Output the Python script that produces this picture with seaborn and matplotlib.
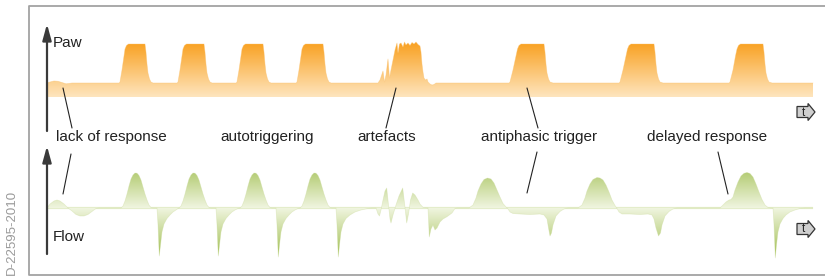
import numpy as np
import pandas as pd
import seaborn as sns
import matplotlib.pyplot as plt
from matplotlib.colors import LinearSegmentedColormap
from matplotlib.patches import PathPatch, FancyArrow

# pressure curve (Paw), x / y in picture units, y grows downwards
paw_x = [47, 50, 54, 58, 62, 66, 69, 72,
         119, 120, 122, 124, 125, 126.5, 128.5, 145, 146, 147, 148, 149.5, 151, 153,
         177, 178, 180, 182, 183, 184.5, 186.5, 204, 205, 206, 207, 208.5, 210, 212,
         236, 237, 239, 241, 242, 243.5, 245.5, 263, 264, 265, 266, 267.5, 269, 271,
         296, 297, 299, 301, 302, 303.5, 305.5, 323, 324, 325, 326, 327.5, 329, 331,
         378, 380, 383, 384.5, 386, 388, 389.5, 391, 393, 395, 397, 398, 399.5, 401, 403, 404.5,
         406, 408, 410, 412, 414, 416, 418, 420, 421, 422, 423, 424, 425.5, 427, 428, 430, 432, 434, 436,
         509, 510, 513, 516, 517.5, 519, 521, 544, 545, 546, 547, 548.5, 550, 553,
         619, 620, 623, 626, 627.5, 629, 631, 654, 655, 656, 657, 658.5, 660, 663,
         729, 730, 733, 735.5, 737, 738.5, 740.5, 763, 764, 765, 766, 767.5, 769, 772,
         813]
paw_y = [83, 82, 81, 81.3, 82.5, 83.8, 83.5, 83,
         83, 82, 70, 56, 49, 45.5, 44, 44, 52, 64, 73, 79, 82, 83,
         83, 82, 70, 56, 49, 45.5, 44, 44, 52, 64, 73, 79, 82, 83,
         83, 82, 70, 56, 49, 45.5, 44, 44, 52, 64, 73, 79, 82, 83,
         83, 82, 70, 56, 49, 45.5, 44, 44, 52, 64, 73, 79, 82, 83,
         83, 80, 71, 82, 75, 59, 78, 70, 60, 50, 43, 53, 44, 43, 47, 42,
         45, 43, 45.5, 42.5, 44, 42, 44.5, 46, 52, 64, 72, 78, 80, 79, 82, 84, 85, 84.5, 83,
         83, 82, 70, 56, 49, 45.5, 44, 44, 52, 64, 73, 79, 82, 83,
         83, 82, 70, 56, 49, 45.5, 44, 44, 52, 64, 73, 79, 82, 83,
         83, 82, 70, 56, 49, 45.5, 44, 44, 52, 64, 73, 79, 82, 83,
         83]
paw_bottom = 97

# flow curve
flow_x = [47, 50, 54, 57, 60, 64, 68, 72, 76, 80, 84, 88, 92, 96, 99,
          121, 123, 125, 127, 129, 131, 133, 135, 137, 139, 141, 143, 145, 147, 149, 151, 153,
          157, 158, 158.8, 159.3, 160.5, 162, 164, 167, 170, 173, 176, 178,
          179, 181, 183, 185, 187, 189, 191, 193, 195, 197, 199, 201, 203, 205, 207, 209, 211,
          216, 217, 217.8, 218.3, 219.5, 221, 223, 226, 229, 232, 235, 238,
          240, 242, 244, 246, 248, 250, 252, 254, 256, 258, 260, 262, 264, 266, 268, 270, 272,
          276, 277, 277.8, 278.3, 279.5, 281, 283, 286, 289, 292, 295, 298,
          300, 302, 304, 306, 308, 310, 312, 314, 316, 318, 320, 322, 324, 326, 328, 330, 332,
          336, 337, 337.8, 338.3, 339.5, 341, 343, 346, 350, 355, 361, 368, 372,
          376, 378, 379.5, 381, 383, 385, 386.7, 388.5, 390, 391, 393, 396, 399, 402.7, 404.5,
          406.7, 408.5, 410.5, 412.7, 415, 418, 420, 423, 428, 429.3, 431, 433, 435, 437, 440,
          443, 447, 450, 452, 455, 457,
          469, 473, 476, 478, 481, 484, 487.5, 491, 494, 497, 500, 503, 506, 508,
          510, 513, 520, 530, 540, 544, 547, 548.5, 550, 551.5, 553, 556, 560, 564, 568,
          578, 582, 585, 587, 590, 593, 597, 600, 603, 606, 609, 612, 615, 617,
          619, 622, 630, 640, 648, 652, 654, 656, 658.5, 660.5, 662, 665, 669, 673, 677,
          720, 723, 726, 729, 731, 733, 735, 738, 741, 744, 747, 750, 753, 756, 759, 762, 765, 768, 771,
          773, 774, 774.8, 775.3, 776.5, 778, 780, 783, 786, 790, 795, 800, 805, 813]
flow_y = [208, 204, 201, 200, 201, 204, 208, 211, 214.5, 216, 216, 214.5, 211.5, 208.5, 208,
          208, 206, 201, 194, 186, 179, 175, 173, 173.2, 175.5, 180, 187, 194, 200, 205, 207.5, 208,
          208, 225, 245, 256, 245, 232, 224, 218.5, 215, 212, 210, 208.5,
          208, 206, 201, 194, 186, 179, 175, 173, 173.2, 175.5, 180, 187, 194, 200, 205, 207.5, 208,
          208, 225, 245, 256, 245, 232, 224, 218.5, 215, 212, 210, 208.5,
          208, 206, 201, 194, 186, 179, 175, 173, 173.2, 175.5, 180, 187, 194, 200, 205, 207.5, 208,
          208, 225, 245, 257, 245, 232, 224, 218.5, 215, 212, 210, 208.5,
          208, 206, 201, 194, 186, 179, 175, 173, 173.2, 175.5, 180, 187, 194, 200, 205, 207.5, 208,
          208, 225, 245, 257, 245, 232, 224, 218.5, 215, 212, 210, 208.5, 208,
          208, 214, 216, 210, 200, 191, 188, 205, 219, 223, 215, 205, 196, 188, 203,
          223, 214, 200, 193, 195, 200, 204, 207.3, 208, 237, 229, 225, 230, 228, 222,
          219, 216.7, 214.5, 213, 208.5, 208,
          208, 205, 198, 191, 184, 179.5, 178, 179, 183, 190, 197, 203.5, 207, 209,
          212, 213.5, 214, 214.5, 214, 215, 219, 228, 236, 233, 225, 216, 211.5, 209, 208,
          208, 205, 198, 191, 184, 179.5, 177.5, 178, 180, 185, 192, 200, 205.5, 208.5,
          212, 214, 214, 214.5, 214, 215, 219, 228, 236, 233, 225, 216, 211.5, 209, 208,
          208, 205, 202, 200, 199.5, 197, 190, 182, 176, 173.3, 172.5, 173.5, 177, 184, 192, 199.5, 205, 207.5, 208,
          208, 225, 245, 258, 245, 232, 224, 218.5, 215, 212, 210, 208.5, 208, 208]
flow_base = 208

# labels
event_labels = ['lack of response', 'autotriggering', 'artefacts',
                'antiphasic trigger', 'delayed response']
event_x = [111, 267, 387, 539, 707]
label_y = 137
leaders = [((72, 128), (63, 88)), ((71, 154), (63, 194)),
           ((386, 128), (396, 88)), ((538, 128), (527, 88)),
           ((537, 152), (527, 193)), ((718, 152), (728, 194))]

sns.set_theme(style='white')
plt.rcParams['font.family'] = ['Liberation Sans', 'DejaVu Sans']

fig = plt.figure(figsize=(8.25, 2.77), dpi=100)
ax = fig.add_axes([0, 0, 1, 1])


def gradient_fill(x, y, base, values, extent, cmap, vmin, vmax):
    poly = ax.fill_between(x, y, base, color='none', lw=0)
    patch = PathPatch(poly.get_paths()[0], transform=ax.transData,
                      facecolor='none', edgecolor='none')
    ax.add_patch(patch)
    im = ax.imshow(values, extent=extent, origin='lower', aspect='auto',
                   cmap=cmap, vmin=vmin, vmax=vmax, zorder=2)
    im.set_clip_path(patch)


# Paw, dark orange at the top, pale at the bottom
paw_cmap = LinearSegmentedColormap.from_list('paw', ['#F9A326', '#FEE5BE'])
ys = np.linspace(40, 100, 240)
gradient_fill(paw_x, paw_y, paw_bottom, np.repeat(ys[:, None], 2, axis=1),
              (47, 813, ys[0], ys[-1]), paw_cmap, 44, 97)
paw = pd.DataFrame({'x': paw_x, 'y': paw_y})
sns.lineplot(data=paw, x='x', y='y', ax=ax, sort=False, estimator=None,
             color='#FBC06A', lw=0.5, alpha=0.5, zorder=3)

# Flow, pale near zero, green towards the peaks
flow_cmap = LinearSegmentedColormap.from_list('flow', ['#F0F5E0', '#A4C157'])
ys = np.linspace(165, 262, 300)
ax.hlines(flow_base, 47, 813, color='#E4EDCB', lw=1.6, zorder=1)
gradient_fill(flow_x, flow_y, flow_base,
              np.repeat(np.abs(ys - flow_base)[:, None], 2, axis=1),
              (47, 813, ys[0], ys[-1]), flow_cmap, 0, 46)
flow = pd.DataFrame({'x': flow_x, 'y': flow_y})
sns.lineplot(data=flow, x='x', y='y', ax=ax, sort=False, estimator=None,
             color='#C9DA98', lw=0.5, alpha=0.4, zorder=3)

# frame
ax.plot([830, 29, 29, 830], [6, 6, 275, 275], color='#A3A3A3', lw=1.3, zorder=1)

# y arrows
for top, bottom in [(24, 131), (146, 254)]:
    ax.annotate('', xy=(47, top), xytext=(47, bottom),
                arrowprops=dict(arrowstyle='-|>,head_length=0.8,head_width=0.22',
                                color='#3A3A3A', lw=1.6, shrinkA=0, shrinkB=0),
                zorder=4)
ax.text(53, 43, 'Paw', fontsize=11, color='#222222', va='center', ha='left')
ax.text(53, 237, 'Flow', fontsize=11, color='#222222', va='center', ha='left')

# time arrows
for ty in [112, 229]:
    ax.add_patch(FancyArrow(797, ty, 18, 0, width=11, head_width=17, head_length=7,
                            length_includes_head=True, fc='#CFCFCF', ec='#333333',
                            lw=0.9, zorder=4))
    ax.text(803, ty + 0.5, 't', fontsize=8.5, color='#222222', ha='center',
            va='center', zorder=5)

# event labels and leader lines
for lab, lx in zip(event_labels, event_x):
    ax.text(lx, label_y, lab, fontsize=11, color='#222222', ha='center', va='center')
for (x0, y0), (x1, y1) in leaders:
    ax.plot([x0, x1], [y0, y1], color='#222222', lw=0.8, zorder=5)

ax.text(12, 275, 'D-22595-2010', rotation=90, fontsize=9.5, color='#9A9A9A',
        ha='center', va='bottom')

ax.set_xlim(0, 825)
ax.set_ylim(277, 0)
ax.axis('off')
fig.savefig('out.png', dpi=100)
